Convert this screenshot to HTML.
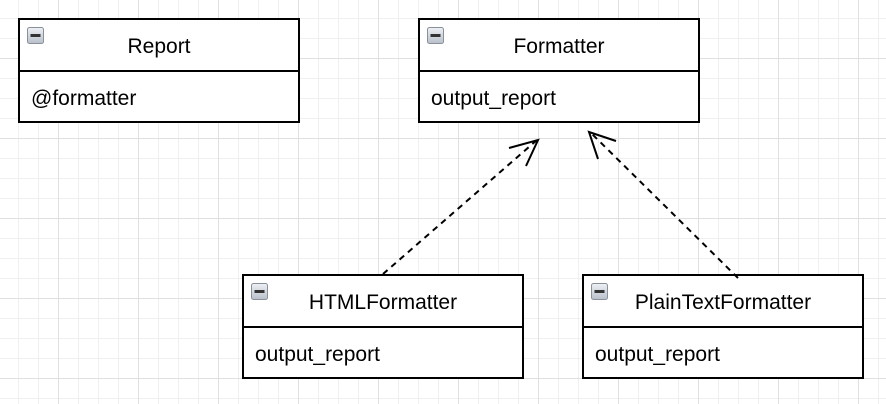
<!DOCTYPE html>
<html><head><meta charset="utf-8"><style>html,body{margin:0;padding:0;background:#fff}svg{display:block}</style></head>
<body>
<svg width="886" height="404" viewBox="0 0 886 404" xmlns="http://www.w3.org/2000/svg" font-family="Liberation Sans, sans-serif" font-size="21">
<defs>
<pattern id="minor" width="20" height="20" patternUnits="userSpaceOnUse" x="-2" y="-2">
<path d="M0.5 0V20M0 0.5H20" stroke="#f0f0f0" stroke-width="1" fill="none"/>
</pattern>
<pattern id="major" width="80" height="80" patternUnits="userSpaceOnUse" x="58" y="58">
<path d="M0.5 0V80M0 0.5H80" stroke="#e0e0e0" stroke-width="1" fill="none"/>
</pattern>
<linearGradient id="ig" x1="0" y1="0" x2="0" y2="1"><stop offset="0" stop-color="#eef1f5"/><stop offset="1" stop-color="#b8c0ca"/></linearGradient>
<g id="icon"><rect x="0.5" y="0.5" width="16" height="16" rx="2" fill="url(#ig)" stroke="#8a9099"/><rect x="3.5" y="7" width="10" height="3" fill="#333"/></g>
</defs>
<rect width="886" height="404" fill="#fff"/>
<rect width="886" height="404" fill="url(#minor)"/>
<rect width="886" height="404" fill="url(#major)"/>
<g fill="#fff" stroke="#000" stroke-width="2">
<rect x="19" y="19" width="280" height="103"/>
<rect x="419" y="19" width="280" height="103"/>
<rect x="243" y="275" width="280" height="103"/>
<rect x="583" y="275" width="280" height="103"/>
<path d="M19 71H299M419 71H699M243 327H523M583 327H863" fill="none"/>
</g>
<use href="#icon" x="27" y="27"/><use href="#icon" x="427" y="27"/><use href="#icon" x="251" y="283"/><use href="#icon" x="591" y="283"/>
<g fill="#000">
<text x="159" y="53" text-anchor="middle">Report</text>
<text x="31" y="105">@formatter</text>
<text x="559" y="53" text-anchor="middle">Formatter</text>
<text x="431" y="105">output_report</text>
<text x="383" y="309" text-anchor="middle">HTMLFormatter</text>
<text x="255" y="361">output_report</text>
<text x="723" y="309" text-anchor="middle">PlainTextFormatter</text>
<text x="595" y="361">output_report</text>
</g>
<g stroke="#000" fill="none" stroke-width="2">
<path d="M383 274L537 140" stroke-dasharray="6,5"/>
<path d="M509 148L538 140L526 166"/>
<path d="M738 278L590 132" stroke-dasharray="6,5"/>
<path d="M616 141L589 132L598 159"/>
</g>
</svg>
</body></html>
